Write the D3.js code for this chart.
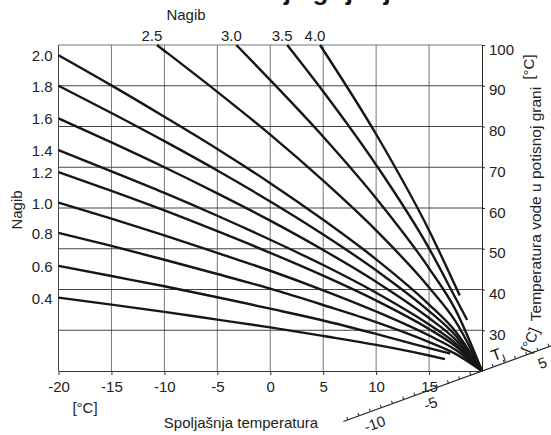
<!DOCTYPE html>
<html>
<head>
<meta charset="utf-8">
<script src="https://cdn.jsdelivr.net/npm/d3@7"></script>
<style>
  body { margin: 0; background: #fff; }
  svg { display: block; font-family: "Liberation Sans", Arial, sans-serif; }
</style>
</head>
<body>
<div id="chart"></div>
<script>
// heating curves: [outdoor temp, flow temp]
var curve04 = [[-20,38.0],[-15,36.3],[-10,34.5],[-5,32.6],[0,30.7],[5,28.6],[10,26.4],[15,23.8],[16.5,22.9]];
var curve06 = [[-20,45.8],[-15,43.3],[-10,40.8],[-5,38.1],[0,35.3],[5,32.4],[10,29.1],[15,25.6],[17,24.3]];
var curve08 = [[-20,53.9],[-15,50.7],[-10,47.3],[-5,43.8],[0,40.2],[5,36.2],[10,32.0],[15,27.1],[17.5,24.2],[20,20]];
var curve10 = [[-20,61.3],[-15,57.4],[-10,53.3],[-5,49.0],[0,44.6],[5,39.8],[10,34.6],[15,28.7],[17.5,25.2],[20,20]];
var curve12 = [[-20,68.8],[-15,64.2],[-10,59.4],[-5,54.3],[0,49.0],[5,43.4],[10,37.3],[15,30.3],[17.5,26.1],[20,20]];
var curve14 = [[-20,74.2],[-15,69.0],[-10,63.7],[-5,58.1],[0,52.2],[5,46.0],[10,39.2],[15,31.4],[17.5,26.8],[20,20]];
var curve16 = [[-20,82.0],[-15,76.1],[-10,70.0],[-5,63.6],[0,56.9],[5,49.7],[10,41.9],[15,33.0],[17.5,27.7],[20,20]];
var curve18 = [[-20,90.0],[-15,83.3],[-10,76.4],[-5,69.2],[0,61.6],[5,53.5],[10,44.7],[15,34.7],[17.5,28.7],[20,20]];
var curve20 = [[-20,97.5],[-15,90.1],[-10,82.4],[-5,74.5],[0,66.1],[5,57.1],[10,47.4],[15,36.3],[17.5,29.7],[20,20]];
var curve25 = [[-10.7,100],[-10,98.6],[-5,88.5],[0,78.0],[5,66.7],[10,54.5],[15,40.5],[17.5,32.2],[20,20]];
var curve30 = [[-3.2,100],[0,91.4],[5,77.5],[10,62.4],[15,45.2],[17.5,35.0],[20,20]];
var curve35 = [[1.6,100],[5,88.6],[10,70.6],[15,50.1],[17.5,37.9],[18.6,32.5]];
var curve40 = [[4.7,100],[10,78.1],[15,54.5],[17.9,38.5]];

var leftLabels = ["0.4","0.6","0.8","1.0","1.2","1.4","1.6","1.8","2.0"];
var topLabels = ["2.5","3.0","3.5","4.0"];
var xTicks = [-20,-15,-10,-5,0,5,10,15];
var yTicks = [30,40,50,60,70,80,90,100];
var tiTicks = [-10,-5,5];

function drawChart() {

  var margin = {top: 45, right: 69, bottom: 64, left: 58.5},
      width = 551 - margin.left - margin.right,
      height = 435 - margin.top - margin.bottom;

  var svg = d3.select("#chart")
        .append("svg")
        .attr("width", 551)
        .attr("height", 435);

  // title, cut off by the top edge like in the scan
  svg.append("text")
     .attr("x", 210)
     .attr("y", 0)
     .style("font-size", "26px")
     .style("font-weight", "bold")
     .style("fill", "#111")
     .text("Krivulje grijanja");

  var g = svg.append("g")
        .attr("transform", "translate(" + margin.left + "," + margin.top + ")");

  var xScale = d3.scaleLinear().domain([-20, 20]).range([0, width]);
  var yScale = d3.scaleLinear().domain([20, 100]).range([height, 0]);

  // grid
  g.selectAll(".vgrid")
   .data(xTicks.slice(1))
   .enter().append("line")
   .attr("x1", function(d) { return xScale(d); })
   .attr("x2", function(d) { return xScale(d); })
   .attr("y1", 0)
   .attr("y2", height)
   .style("stroke", "#777");

  g.selectAll(".hgrid")
   .data(yTicks)
   .enter().append("line")
   .attr("x1", 0)
   .attr("x2", width)
   .attr("y1", function(d) { return yScale(d); })
   .attr("y2", function(d) { return yScale(d); })
   .style("stroke", function(d) { return d == 100 ? "#777" : "#444"; });

  g.append("line")
   .attr("x1", 0).attr("x2", 0)
   .attr("y1", 0).attr("y2", height)
   .style("stroke", "#444");

  // bottom axis
  var xAxis = g.append("g")
     .attr("transform", "translate(0," + height + ")")
     .call(d3.axisBottom(xScale).tickValues(xTicks).tickSize(4).tickSizeOuter(0).tickPadding(6)
             .tickFormat(function(d) { return String(d); }));
  xAxis.select(".domain").style("stroke", "#333");
  xAxis.selectAll("line").style("stroke", "#333");
  xAxis.selectAll("text").style("font-size", "15px").style("fill", "#222");

  // right axis
  var yAxis = g.append("g")
     .attr("transform", "translate(" + width + ",0)")
     .call(d3.axisRight(yScale).tickValues(yTicks).tickSize(3).tickSizeOuter(0).tickPadding(4));
  yAxis.select(".domain").style("stroke", "#222");
  yAxis.selectAll("line").style("stroke", "#222");
  yAxis.selectAll("text").attr("dy", "0.6em").style("font-size", "15px").style("fill", "#222");

  // curves
  var curves = [curve04, curve06, curve08, curve10, curve12, curve14, curve16, curve18, curve20,
                curve25, curve30, curve35, curve40];

  var line = d3.line()
        .x(function(d) { return xScale(d[0]); })
        .y(function(d) { return yScale(d[1]); })
        .curve(d3.curveMonotoneX);

  g.selectAll(".curve")
   .data(curves)
   .enter().append("path")
   .attr("d", line)
   .style("fill", "none")
   .style("stroke", "#161616")
   .style("stroke-width", 2.4);

  // curve labels on the left
  g.selectAll(".leftlabel")
   .data(leftLabels)
   .enter().append("text")
   .attr("x", -6)
   .attr("y", function(d, i) { return yScale(curves[i][0][1]); })
   .attr("dy", "0.4em")
   .style("text-anchor", "end")
   .style("font-size", "15px")
   .style("fill", "#222")
   .text(function(d) { return d; });

  // curve labels on top
  g.selectAll(".toplabel")
   .data(topLabels)
   .enter().append("text")
   .attr("x", function(d, i) { return xScale(curves[9 + i][0][0]) - 5; })
   .attr("y", -4)
   .style("text-anchor", "middle")
   .style("font-size", "15px")
   .style("fill", "#222")
   .text(function(d) { return d; });

  // axis titles
  svg.append("text")
     .attr("x", 186).attr("y", 20)
     .style("text-anchor", "middle")
     .style("font-size", "15px")
     .style("fill", "#222")
     .text("Nagib");

  svg.append("text")
     .attr("transform", "translate(22,210) rotate(-90)")
     .style("text-anchor", "middle")
     .style("font-size", "15px")
     .style("fill", "#222")
     .text("Nagib");

  svg.append("text")
     .attr("x", 85).attr("y", 413)
     .style("text-anchor", "middle")
     .style("font-size", "15px")
     .style("fill", "#222")
     .text("[°C]");

  svg.append("text")
     .attr("x", 241).attr("y", 428)
     .style("text-anchor", "middle")
     .style("font-size", "15px")
     .style("fill", "#222")
     .text("Spoljašnja temperatura");

  svg.append("text")
     .attr("transform", "translate(541,204) rotate(-90)")
     .style("text-anchor", "middle")
     .style("font-size", "15.5px")
     .style("fill", "#222")
     .text("Temperatura vode u potisnoj grani");

  svg.append("text")
     .attr("transform", "translate(534,67) rotate(-90)")
     .style("text-anchor", "middle")
     .style("font-size", "15px")
     .style("fill", "#222")
     .text("[°C]");

  // slanted room temperature axis through the common point
  var tiScale = d3.scaleLinear().domain([0, 1]).range([0, 11.9]);
  var ti = svg.append("g")
        .attr("transform", "translate(" + (margin.left + xScale(20)) + "," + (margin.top + yScale(20)) + ") rotate(-20)");

  ti.append("line")
    .attr("x1", tiScale(-12.4)).attr("x2", tiScale(7))
    .attr("y1", 0).attr("y2", 0)
    .style("stroke", "#222")
    .style("stroke-width", 1.2);

  ti.selectAll(".titick")
    .data(d3.range(-12, 7))
    .enter().append("line")
    .attr("x1", function(d) { return tiScale(d); })
    .attr("x2", function(d) { return tiScale(d); })
    .attr("y1", 0).attr("y2", -3)
    .style("stroke", "#222");

  ti.selectAll(".tilabel")
    .data(tiTicks)
    .enter().append("text")
    .attr("x", function(d) { return tiScale(d); })
    .attr("y", 13)
    .attr("dy", "0.35em")
    .style("text-anchor", "middle")
    .style("font-size", "15px")
    .style("fill", "#222")
    .text(function(d) { return String(d); });

  var tl = ti.append("text")
    .attr("x", 14).attr("y", -5)
    .style("font-size", "16px")
    .style("fill", "#111");
  tl.append("tspan").text("T");
  tl.append("tspan").attr("dy", 4).style("font-size", "11px").text("I");

  svg.append("text")
     .attr("transform", "translate(530,340) rotate(-68)")
     .attr("dy", "0.35em")
     .style("text-anchor", "middle")
     .style("font-size", "15px")
     .style("fill", "#222")
     .text("[°C]");
}

drawChart();
</script>
</body>
</html>
